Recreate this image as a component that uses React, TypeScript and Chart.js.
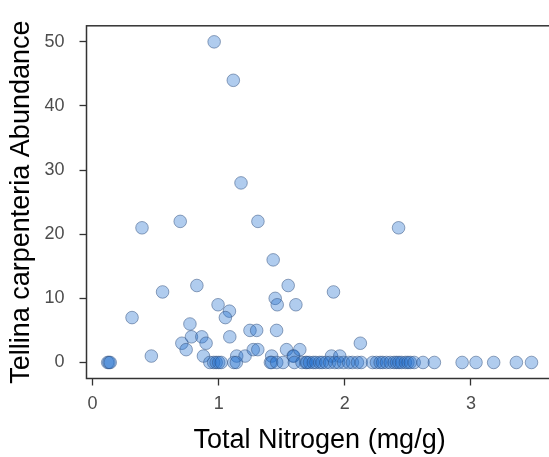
import React, { useEffect, useRef } from "react";
import { Chart, registerables } from "chart.js";

Chart.register(...registerables);

// Total Nitrogen (mg/g)
const nitrogen: number[] = [
  0.964, 1.116, 1.177, 0.392, 0.695, 1.311, 2.426, 1.432, 0.555, 0.827,
  1.551, 1.91, 1.448, 1.464, 1.612, 0.995, 1.085, 1.053, 0.313, 0.466,
  0.772, 0.784, 0.708, 0.742, 0.866, 0.9, 0.879, 1.088, 1.143, 1.209,
  1.248, 1.301, 1.274, 1.459, 1.42, 1.538, 1.59, 1.595, 1.643, 2.123,
  1.894, 1.96, 1.31,
  // zero abundance
  0.12, 0.13, 0.14, 0.93, 0.96, 0.98, 1.0, 1.02, 1.12, 1.14,
  1.41, 1.42, 1.46, 1.51, 1.6,
  1.66, 1.69, 1.7, 1.72, 1.75, 1.77, 1.8, 1.82, 1.85, 1.88,
  1.92, 1.95, 1.99, 2.03, 2.06, 2.1, 2.13, 2.22, 2.25, 2.28,
  2.3, 2.33, 2.36, 2.39, 2.41, 2.43, 2.45, 2.48, 2.5, 2.52,
  2.55, 2.62, 2.71, 2.93, 3.04, 3.18, 3.36, 3.48,
];

// Tellina carpenteria Abundance
const abundance: number[] = [
  50, 44, 28, 21, 22, 22, 21, 16, 11, 12,
  12, 11, 10, 9, 9, 9, 8, 7, 7, 1,
  6, 4, 3, 2, 4, 3, 1, 4, 1, 1,
  5, 5, 2, 5, 1, 2, 1, 1, 2, 3,
  1, 1, 2,
  0, 0, 0, 0, 0, 0, 0, 0, 0, 0,
  0, 0, 0, 0, 0,
  0, 0, 0, 0, 0, 0, 0, 0, 0, 0,
  0, 0, 0, 0, 0, 0, 0, 0, 0, 0,
  0, 0, 0, 0, 0, 0, 0, 0, 0, 0,
  0, 0, 0, 0, 0, 0, 0, 0,
];

const xTicks: number[] = [0, 1, 2, 3];
const yTicks: number[] = [0, 10, 20, 30, 40, 50];

const xTitle = "Total Nitrogen (mg/g)";
const yTitle = "Tellina carpenteria Abundance";

export default function App() {
  const ref = useRef<HTMLCanvasElement>(null);

  useEffect(() => {
    if (!ref.current) return;
    const points = nitrogen.map((x, i) => ({ x, y: abundance[i] }));

    const borderPlugin = {
      id: "panelBorder",
      afterDatasetsDraw(chart: any) {
        const { ctx, chartArea } = chart;
        const { left, top, right, bottom } = chartArea;
        ctx.save();
        ctx.strokeStyle = "#333333";
        ctx.lineWidth = 1.5;
        ctx.strokeRect(left, top, right - left, bottom - top);
        ctx.restore();
      },
    };

    const fontFamily = "'Liberation Sans', Arial, sans-serif";

    const chart = new Chart(ref.current, {
      type: "scatter",
      data: {
        datasets: [
          {
            data: points,
            backgroundColor: "rgba(30,110,205,0.35)",
            borderColor: "rgba(50,80,125,0.5)",
            borderWidth: 1,
            pointRadius: 6.3,
            pointHoverRadius: 6.3,
          },
        ],
      },
      options: {
        animation: false,
        responsive: false,
        maintainAspectRatio: false,
        events: [],
        layout: { padding: { top: 6, right: 6, left: 0, bottom: 0 } },
        plugins: {
          legend: { display: false },
          tooltip: { enabled: false },
        },
        scales: {
          x: {
            type: "linear",
            min: -0.048,
            max: 3.648,
            afterBuildTicks: (scale: any) => {
              scale.ticks = xTicks.map((v) => ({ value: v }));
            },
            afterFit: (scale: any) => {
              scale.height = 78.5;
            },
            grid: {
              display: true,
              drawOnChartArea: false,
              drawTicks: true,
              tickLength: 7,
              tickColor: "#333333",
              tickWidth: 1.3,
            },
            border: { display: false },
            ticks: {
              color: "#4D4D4D",
              padding: 8,
              font: { family: fontFamily, size: 18 },
              maxRotation: 0,
              callback: (v: any) => String(v),
            },
            title: {
              display: true,
              text: xTitle,
              color: "#000000",
              font: { family: fontFamily, size: 27, lineHeight: 1.2 },
              padding: { top: 0, bottom: 0 },
            },
          },
          y: {
            type: "linear",
            min: -2.5,
            max: 52.5,
            afterBuildTicks: (scale: any) => {
              scale.ticks = yTicks.map((v) => ({ value: v }));
            },
            afterFit: (scale: any) => {
              scale.width = 86.5;
            },
            grid: {
              display: true,
              drawOnChartArea: false,
              drawTicks: true,
              tickLength: 7,
              tickColor: "#333333",
              tickWidth: 1.3,
            },
            border: { display: false },
            ticks: {
              color: "#4D4D4D",
              padding: 15,
              font: { family: fontFamily, size: 18 },
              callback: (v: any) => String(v),
            },
            title: {
              display: true,
              text: yTitle,
              color: "#000000",
              font: { family: fontFamily, size: 27, lineHeight: 1.2 },
              padding: { top: 5, bottom: 0 },
            },
          },
        },
      },
      plugins: [borderPlugin],
    });

    return () => chart.destroy();
  }, []);

  return (
    <div
      style={{
        position: "fixed",
        left: 0,
        top: 0,
        width: 549,
        height: 457,
        overflow: "hidden",
        background: "#ffffff",
      }}
    >
      <canvas ref={ref} width={560} height={457} style={{ display: "block" }} />
    </div>
  );
}
